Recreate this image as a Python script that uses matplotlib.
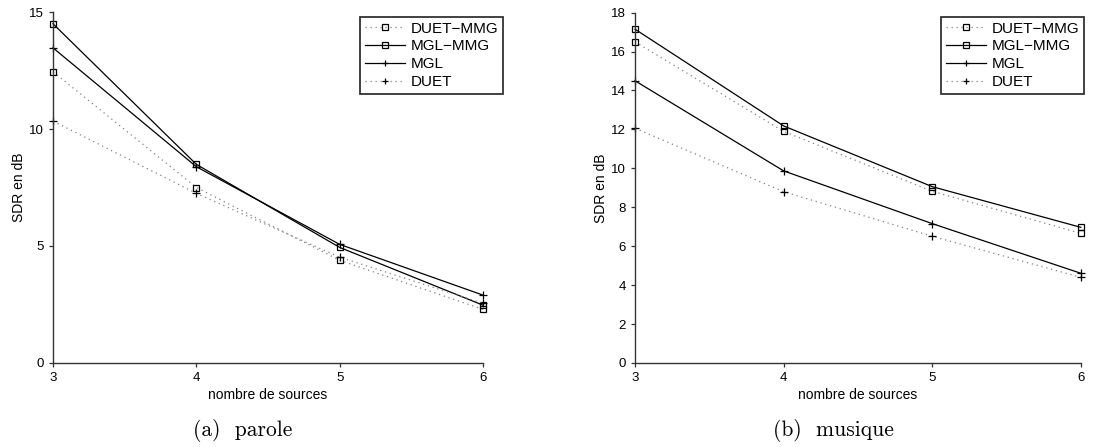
import matplotlib
matplotlib.use("Agg")
import matplotlib.pyplot as plt

# nombre de sources
sources = [3, 4, 5, 6]

# (a) parole
parole_duet_mmg = [12.45, 7.5, 4.39, 2.29]
parole_mgl_mmg = [14.5, 8.49, 4.94, 2.47]
parole_mgl = [13.47, 8.39, 5.07, 2.9]
parole_duet = [10.34, 7.25, 4.52, 2.55]

# (b) musique
musique_duet_mmg = [16.5, 11.9, 8.82, 6.66]
musique_mgl_mmg = [17.15, 12.18, 9.06, 6.97]
musique_mgl = [14.5, 9.87, 7.16, 4.61]
musique_duet = [12.06, 8.8, 6.51, 4.4]

labels = ["DUET\u2212MMG", "MGL\u2212MMG", "MGL", "DUET"]

plt.rcParams["font.family"] = ["Liberation Sans", "DejaVu Sans"]


def draw(ax, series, ymax, yticks, legend_anchor):
    styles = [
        dict(color="#808080", linestyle=(0, (1, 3)), marker="s",
             markersize=4.6, markerfacecolor="none", markeredgecolor="black"),
        dict(color="black", linestyle="-", marker="s",
             markersize=4.6, markerfacecolor="none", markeredgecolor="black"),
        dict(color="black", linestyle="-", marker="+",
             markersize=6, markeredgecolor="black"),
        dict(color="#808080", linestyle=(0, (1, 3)), marker="+",
             markersize=6, markeredgecolor="black"),
    ]
    for values, label, st in zip(series, labels, styles):
        ax.plot(sources, values, label=label, linewidth=0.9,
                markeredgewidth=0.9, clip_on=False, **st)

    ax.set_xlim(3, 6)
    ax.set_ylim(0, ymax)
    ax.set_xticks(sources)
    ax.set_yticks(yticks)
    ax.spines["top"].set_visible(False)
    ax.spines["right"].set_visible(False)
    for s in ("left", "bottom"):
        ax.spines[s].set_color("#333333")
        ax.spines[s].set_linewidth(1.0)
    ax.tick_params(direction="out", length=3, width=0.9, colors="#333333",
                   labelcolor="black", labelsize=9.5)
    ax.set_xlabel("nombre de sources", fontsize=10, labelpad=3)
    ax.set_ylabel("SDR en dB", fontsize=10, labelpad=2)

    leg = ax.legend(loc="upper right", bbox_to_anchor=legend_anchor,
                    bbox_transform=fig.transFigure, fontsize=11,
                    frameon=True, fancybox=False, edgecolor="black",
                    handlelength=2.6, handletextpad=0.4, borderpad=0.3,
                    labelspacing=0.25, borderaxespad=0, markerscale=0.8)
    leg.get_frame().set_linewidth(1.3)


fig = plt.figure(figsize=(10.93, 4.47), dpi=100)
ax1 = fig.add_axes([0.0485, 0.188, 0.3934, 0.785])
ax2 = fig.add_axes([0.581, 0.188, 0.4078, 0.7837])

draw(ax1, [parole_duet_mmg, parole_mgl_mmg, parole_mgl, parole_duet],
     15, [0, 5, 10, 15], (503 / 1093, 1 - 17 / 447))
draw(ax2, [musique_duet_mmg, musique_mgl_mmg, musique_mgl, musique_duet],
     18, list(range(0, 19, 2)), (1084 / 1093, 1 - 17 / 447))

# captions
fig.text(243 / 1093, 1 - 431 / 447, "(a)  parole", family="cmr10",
         fontsize=15.5, ha="center", va="center")
fig.text(833 / 1093, 1 - 431 / 447, "(b)  musique", family="cmr10",
         fontsize=15.5, ha="center", va="center")

fig.savefig("out.png", dpi=100)
